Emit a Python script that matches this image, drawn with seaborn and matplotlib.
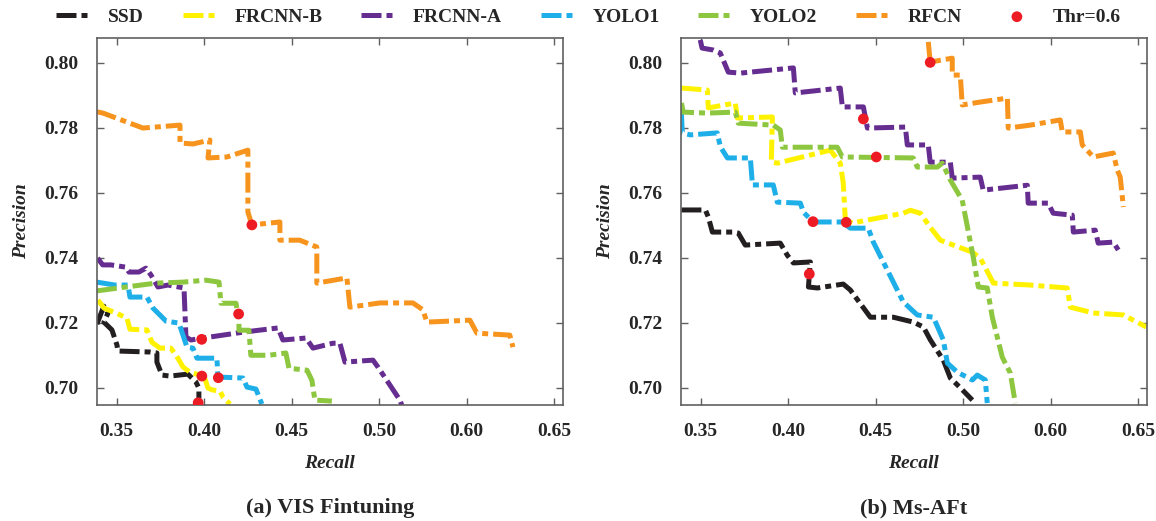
import matplotlib
matplotlib.use("Agg")
import matplotlib.pyplot as plt
import seaborn as sns
import pandas as pd

# ---------------- data (x = position on the recall axis, y = precision) ----------------
series_names = ["SSD", "FRCNN-B", "FRCNN-A", "YOLO1", "YOLO2", "RFCN"]
series_colors = ["#231F20", "#FFF200", "#662D91", "#1EAEE8", "#8DC63F", "#F7941D"]

# (a) VIS Fintuning
a_ssd_x = [0.3387, 0.3427, 0.3450, 0.3427, 0.3473, 0.3502, 0.3507, 0.3690, 0.3730, 0.3730, 0.3759, 0.3805, 0.3907, 0.3953, 0.3970, 0.3970]
a_ssd_y = [0.7196, 0.7251, 0.7229, 0.7202, 0.7178, 0.7131, 0.7113, 0.7110, 0.7107, 0.7079, 0.7039, 0.7036, 0.7042, 0.7018, 0.6999, 0.6968]
a_frb_x = [0.3393, 0.3428, 0.3497, 0.3559, 0.3576, 0.3673, 0.3702, 0.3747, 0.3810, 0.3850, 0.3879, 0.3919, 0.3976, 0.4005, 0.4022, 0.4050, 0.4090, 0.4108, 0.4148]
a_frb_y = [0.7270, 0.7245, 0.7230, 0.7214, 0.7180, 0.7178, 0.7140, 0.7122, 0.7122, 0.7091, 0.7064, 0.7048, 0.7039, 0.7027, 0.6999, 0.6993, 0.6990, 0.6971, 0.6950]
a_fra_x = [0.3391, 0.3420, 0.3467, 0.3553, 0.3570, 0.3627, 0.3667, 0.3696, 0.3736, 0.3793, 0.3885, 0.3896, 0.3925, 0.3993, 0.4222, 0.4313, 0.4422, 0.4450, 0.4582, 0.4622, 0.4736, 0.4776, 0.4805, 0.4965, 0.4993, 0.5119, 0.5130]
a_fra_y = [0.7399, 0.7378, 0.7378, 0.7371, 0.7356, 0.7356, 0.7368, 0.7347, 0.7310, 0.7316, 0.7307, 0.7156, 0.7147, 0.7153, 0.7171, 0.7177, 0.7184, 0.7147, 0.7153, 0.7122, 0.7137, 0.7137, 0.7079, 0.7085, 0.7064, 0.6962, 0.6946]
a_y1_x = [0.3387, 0.3490, 0.3565, 0.3576, 0.3673, 0.3708, 0.3782, 0.3856, 0.3902, 0.3936, 0.3959, 0.4073, 0.4079, 0.4222, 0.4245, 0.4296, 0.4330]
a_y1_y = [0.7325, 0.7316, 0.7316, 0.7279, 0.7279, 0.7245, 0.7205, 0.7199, 0.7125, 0.7122, 0.7091, 0.7091, 0.7033, 0.7030, 0.7002, 0.6996, 0.6950]
a_y2_x = [0.3387, 0.3553, 0.3725, 0.3879, 0.4010, 0.4085, 0.4096, 0.4182, 0.4199, 0.4199, 0.4256, 0.4267, 0.4370, 0.4467, 0.4485, 0.4588, 0.4616, 0.4633, 0.4730]
a_y2_y = [0.7298, 0.7310, 0.7322, 0.7325, 0.7331, 0.7325, 0.7260, 0.7260, 0.7208, 0.7177, 0.7177, 0.7100, 0.7100, 0.7107, 0.7060, 0.7054, 0.7023, 0.6962, 0.6959]
a_rf_x = [0.3386, 0.3422, 0.3650, 0.3862, 0.3862, 0.3936, 0.4033, 0.4022, 0.4130, 0.4250, 0.4250, 0.4273, 0.4433, 0.4433, 0.4547, 0.4644, 0.4644, 0.4816, 0.4833, 0.5005, 0.5193, 0.5250, 0.5273, 0.5519, 0.5559, 0.5747, 0.5765]
a_rf_y = [0.7849, 0.7845, 0.7799, 0.7808, 0.7753, 0.7750, 0.7762, 0.7707, 0.7710, 0.7731, 0.7541, 0.7501, 0.7510, 0.7454, 0.7454, 0.7433, 0.7322, 0.7338, 0.7248, 0.7261, 0.7261, 0.7240, 0.7202, 0.7208, 0.7168, 0.7162, 0.7125]
a_thr_x = [0.3966, 0.3987, 0.3986, 0.4081, 0.4197, 0.4273]
a_thr_y = [0.6954, 0.7036, 0.7149, 0.7031, 0.7227, 0.7501]

# (b) Ms-AFt
b_ssd_x = [0.3390, 0.3527, 0.3544, 0.3567, 0.3681, 0.3715, 0.3755, 0.3955, 0.3995, 0.4030, 0.4127, 0.4116, 0.4167, 0.4315, 0.4355, 0.4470, 0.4601, 0.4716, 0.4773, 0.4813, 0.4887, 0.4927, 0.4984, 0.5053]
b_ssd_y = [0.7547, 0.7547, 0.7525, 0.7479, 0.7479, 0.7476, 0.7439, 0.7445, 0.7408, 0.7384, 0.7387, 0.7310, 0.7307, 0.7319, 0.7301, 0.7217, 0.7217, 0.7202, 0.7187, 0.7147, 0.7085, 0.7030, 0.7000, 0.6962]
b_frb_x = [0.3390, 0.3538, 0.3544, 0.3698, 0.3710, 0.3910, 0.3904, 0.3938, 0.4241, 0.4298, 0.4315, 0.4327, 0.4367, 0.4658, 0.4698, 0.4756, 0.4812, 0.4870, 0.5053, 0.5098, 0.5173, 0.5384, 0.5595, 0.5613, 0.5744, 0.5916, 0.6047]
b_frb_y = [0.7922, 0.7916, 0.7861, 0.7876, 0.7830, 0.7833, 0.7695, 0.7691, 0.7731, 0.7691, 0.7630, 0.7516, 0.7507, 0.7537, 0.7546, 0.7537, 0.7494, 0.7454, 0.7417, 0.7399, 0.7322, 0.7316, 0.7307, 0.7248, 0.7230, 0.7224, 0.7187]
b_fra_x = [0.3498, 0.3508, 0.3572, 0.3612, 0.3658, 0.3727, 0.4030, 0.4041, 0.4298, 0.4310, 0.4430, 0.4453, 0.4670, 0.4681, 0.4801, 0.4812, 0.4927, 0.4938, 0.5098, 0.5115, 0.5367, 0.5372, 0.5486, 0.5515, 0.5624, 0.5630, 0.5755, 0.5772, 0.5858, 0.5887]
b_fra_y = [0.8070, 0.8045, 0.8039, 0.8030, 0.7971, 0.7968, 0.7984, 0.7907, 0.7922, 0.7864, 0.7864, 0.7799, 0.7802, 0.7747, 0.7747, 0.7694, 0.7694, 0.7645, 0.7648, 0.7608, 0.7623, 0.7568, 0.7568, 0.7537, 0.7531, 0.7479, 0.7485, 0.7445, 0.7448, 0.7424]
b_y1_x = [0.3390, 0.3395, 0.3441, 0.3595, 0.3613, 0.3653, 0.3784, 0.3796, 0.3915, 0.3938, 0.4070, 0.4087, 0.4144, 0.4310, 0.4355, 0.4458, 0.4487, 0.4658, 0.4738, 0.4830, 0.4887, 0.4910, 0.4967, 0.5053, 0.5081, 0.5127, 0.5138]
b_y1_y = [0.7845, 0.7784, 0.7778, 0.7784, 0.7741, 0.7707, 0.7707, 0.7624, 0.7624, 0.7571, 0.7568, 0.7540, 0.7510, 0.7510, 0.7491, 0.7491, 0.7448, 0.7264, 0.7224, 0.7217, 0.7147, 0.7076, 0.7048, 0.7024, 0.7039, 0.7024, 0.6953]
b_y2_x = [0.3390, 0.3401, 0.3538, 0.3698, 0.3715, 0.3915, 0.3955, 0.3967, 0.4281, 0.4310, 0.4715, 0.4738, 0.4853, 0.4881, 0.4927, 0.4995, 0.5058, 0.5087, 0.5138, 0.5167, 0.5224, 0.5270, 0.5298]
b_y2_y = [0.7876, 0.7848, 0.7845, 0.7848, 0.7814, 0.7808, 0.7793, 0.7740, 0.7740, 0.7710, 0.7707, 0.7679, 0.7679, 0.7691, 0.7639, 0.7577, 0.7402, 0.7310, 0.7307, 0.7217, 0.7094, 0.7045, 0.6953]
b_rf_x = [0.4801, 0.4812, 0.4938, 0.4938, 0.4984, 0.4995, 0.5098, 0.5253, 0.5258, 0.5384, 0.5555, 0.5567, 0.5670, 0.5681, 0.5744, 0.5858, 0.5881, 0.5898, 0.5916]
b_rf_y = [0.8064, 0.8002, 0.8014, 0.7962, 0.7962, 0.7870, 0.7879, 0.7891, 0.7799, 0.7808, 0.7824, 0.7787, 0.7787, 0.7747, 0.7710, 0.7722, 0.7670, 0.7648, 0.7556]
b_thr_x = [0.4121, 0.4142, 0.4332, 0.4430, 0.4504, 0.4812]
b_thr_y = [0.7350, 0.7511, 0.7509, 0.7827, 0.7710, 0.8001]

x_ticks = [0.35, 0.40, 0.45, 0.50, 0.55, 0.60]
x_tick_labels = ["0.35", "0.40", "0.45", "0.50", "0.60", "0.65"]
y_ticks = [0.70, 0.72, 0.74, 0.76, 0.78, 0.80]
y_tick_labels = ["0.70", "0.72", "0.74", "0.76", "0.78", "0.80"]
panel_titles = ["(a) VIS Fintuning", "(b) Ms-AFt"]
thr_label = "Thr=0.6"

panels = [
    [(a_ssd_x, a_ssd_y), (a_frb_x, a_frb_y), (a_fra_x, a_fra_y), (a_y1_x, a_y1_y), (a_y2_x, a_y2_y), (a_rf_x, a_rf_y), (a_thr_x, a_thr_y)],
    [(b_ssd_x, b_ssd_y), (b_frb_x, b_frb_y), (b_fra_x, b_fra_y), (b_y1_x, b_y1_y), (b_y2_x, b_y2_y), (b_rf_x, b_rf_y), (b_thr_x, b_thr_y)],
]

# ---------------- style ----------------
sns.set_theme(style="ticks")
plt.rcParams["font.family"] = ["Liberation Serif", "DejaVu Serif"]
plt.rcParams["font.weight"] = "bold"

W, H = 1156, 521
fig = plt.figure(figsize=(W / 100, H / 100), dpi=100)
axes_px = [(96.7, 38, 466.3, 367), (680.7, 38, 466.3, 367)]
dash = (0, (4.0, 1.0, 1.2, 1.0))
spine_col = "#606060"

handles = None
for p, (left, top, w, h) in enumerate(axes_px):
    ax = fig.add_axes([left / W, 1 - (top + h) / H, w / W, h / H])
    data = panels[p]
    for i, name in enumerate(series_names):
        xs, ys = data[i]
        df = pd.DataFrame({"x": xs, "y": ys})
        sns.lineplot(data=df, x="x", y="y", ax=ax, sort=False, estimator=None,
                     color=series_colors[i], lw=3.6, linestyle=dash,
                     label=name, legend=False)
    tx, ty = data[6]
    sns.scatterplot(x=tx, y=ty, ax=ax, color="#ED1C24", s=60, edgecolor="none",
                    zorder=5, label=thr_label, legend=False)
    for ln in ax.lines:
        ln.set_dash_capstyle("butt")
        ln.set_solid_capstyle("butt")
    ax.set_xlim(0.3386, 0.6051)
    ax.set_ylim(0.6947, 0.8076)
    ax.set_xticks(x_ticks)
    ax.set_xticklabels(x_tick_labels)
    ax.set_yticks(y_ticks)
    ax.set_yticklabels(y_tick_labels)
    ax.tick_params(direction="in", length=5, width=1, color=spine_col,
                   top=True, right=True, labelsize=14, pad=13)
    ax.tick_params(axis="x", pad=13)
    for lab in ax.get_xticklabels() + ax.get_yticklabels():
        lab.set_fontweight("bold")
    for s in ax.spines.values():
        s.set_color(spine_col)
        s.set_linewidth(1.2)
    ax.set_xlabel("Recall", fontsize=14, fontweight="bold", style="italic", labelpad=11)
    ax.set_ylabel("Precision", fontsize=14, fontweight="bold", style="italic", labelpad=10)
    fig.text((left + w / 2) / W, 1 - 508 / H, panel_titles[p], ha="center", va="center",
             fontsize=16, fontweight="bold")
    if p == 0:
        handles, labels = ax.get_legend_handles_labels()

leg = fig.legend(handles, labels, loc="center", bbox_to_anchor=(588.5 / W, 1 - 17 / H),
                 ncol=7, frameon=False, handlelength=1.65,
                 columnspacing=2.0, handletextpad=1.0, borderaxespad=0, borderpad=0,
                 prop={"weight": "bold", "size": 14})

fig.savefig("out.png", dpi=100)
